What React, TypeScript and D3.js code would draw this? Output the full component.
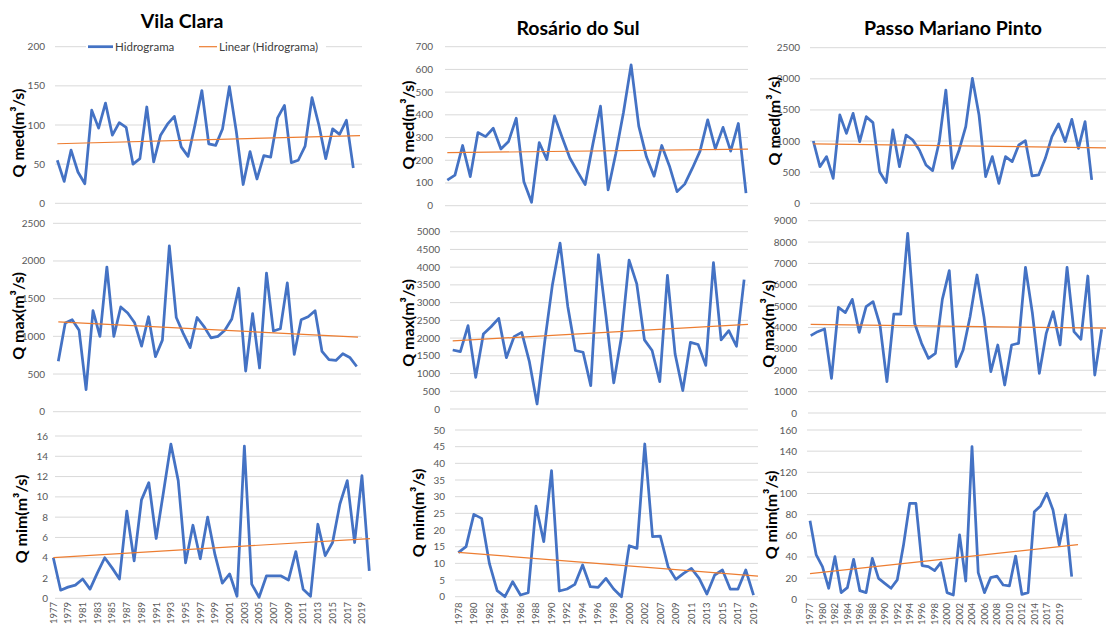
import * as d3 from "d3";
import { useEffect, useRef } from "react";

const FONT = "Lato, 'Open Sans', sans-serif";
const BLUE = "#4472C4";
const ORANGE = "#ED7D31";
const GRID = "#D9D9D9";
const TICK = "#595959";

// categories (years) of each station
const vilaYears = d3.range(1977, 2021).map(String);
const rosarioYears = [...d3.range(1978, 2003), ...d3.range(2006, 2021)].map(String);
const passoYears = ["1977", "1979", ...d3.range(1980, 2015).map(String), "2016", "2017", "2018", "2019", "2020", "2021"];

// x tick labels shown under the bottom row
const vilaTicks = d3.range(1977, 2020, 2).map(String);
const rosarioTicks = [...d3.range(1978, 2003, 2), ...d3.range(2007, 2020, 2)].map(String);
const passoTicks = ["1977", ...d3.range(1980, 2015, 2).map(String), "2017", "2019"];

// Vila Clara
const vilaMed = [55, 28, 68, 40, 25, 119, 96, 128, 87, 103, 97, 50, 57, 123, 53, 87, 101, 111, 72, 60, 100, 144, 76, 74, 95, 149, 92, 24, 66, 31, 61, 59, 109, 125, 52, 55, 73, 135, 100, 57, 95, 88, 106, 45];
const vilaMax = [668, 1177, 1221, 1080, 292, 1340, 1000, 1920, 1000, 1390, 1310, 1180, 870, 1260, 730, 950, 2200, 1250, 1040, 850, 1250, 1130, 980, 1000, 1080, 1230, 1640, 540, 1300, 580, 1840, 1070, 1100, 1710, 760, 1220, 1260, 1340, 800, 690, 680, 770, 720, 600];
const vilaMin = [4.0, 0.8, 1.1, 1.3, 1.9, 0.9, 2.5, 4.0, 3.0, 1.9, 8.6, 3.7, 9.7, 11.4, 5.9, 10.5, 15.2, 11.6, 3.5, 7.2, 3.9, 8.0, 4.3, 1.5, 2.4, 0.2, 15.0, 1.4, 0.1, 2.2, 2.2, 2.2, 1.8, 4.6, 0.9, 0.2, 7.3, 4.2, 5.5, 9.3, 11.6, 5.5, 12.1, 2.7];

// Rosário do Sul
const rosarioMed = [113, 135, 265, 128, 322, 304, 341, 250, 283, 385, 105, 15, 278, 203, 395, 300, 210, 150, 93, 270, 438, 70, 230, 410, 620, 350, 215, 130, 265, 175, 62, 95, 165, 240, 378, 250, 345, 240, 362, 55];
const rosarioMax = [1664, 1617, 2350, 893, 2115, 2320, 2556, 1447, 2040, 2160, 1335, 141, 1900, 3500, 4680, 2900, 1650, 1600, 660, 4350, 2600, 740, 2040, 4200, 3530, 1950, 1650, 770, 3770, 1550, 520, 1880, 1820, 1230, 4130, 1950, 2210, 1770, 3650];
const rosarioMin = [13.2, 15, 24.7, 23.5, 10, 1.8, 0, 4.5, 0.5, 1.2, 27.2, 16.5, 37.8, 1.7, 2.3, 3.7, 9.5, 3, 2.8, 5.5, 2.3, 0, 15.3, 14.5, 45.8, 18, 18.2, 9, 5.2, 7, 8.5, 5.5, 0.8, 6.5, 8, 2.3, 2.3, 8, 0.5];

// Passo Mariano Pinto
const passoMed = [1001, 589, 750, 401, 1419, 1124, 1445, 990, 1392, 1296, 508, 332, 1178, 589, 1097, 1017, 857, 616, 525, 990, 1820, 562, 857, 1231, 2007, 1419, 428, 750, 321, 750, 669, 937, 1006, 439, 455, 723, 1071, 1274, 990, 1349, 883, 1311, 375];
const passoMax = [3619, 3806, 3931, 1622, 4945, 4696, 5320, 3775, 4977, 5211, 4119, 1466, 4633, 4633, 8409, 4197, 3261, 2558, 2793, 5320, 6661, 2168, 2949, 4508, 6459, 4508, 1934, 3183, 1310, 3183, 3261, 6817, 4665, 1856, 3729, 4742, 3183, 6817, 3806, 3447, 6412, 1778, 3916];
const passoMin = [74.3, 41.9, 30.9, 10.4, 40.3, 6.3, 11, 37.8, 8.2, 6.3, 38.7, 19.8, 15.1, 10.4, 18.3, 51, 90.7, 90.7, 31.8, 30.9, 27.1, 34.6, 6.3, 4.1, 60.8, 17.3, 144.3, 25.2, 6.3, 20.5, 22, 13.5, 12.6, 40.9, 4.7, 6.3, 82.8, 88.2, 100.2, 84.4, 51.3, 79.7, 21.4];

const titles = [
    { text: "Vila Clara", x: 182, y: 28 },
    { text: "Rosário do Sul", x: 578, y: 35 },
    { text: "Passo Mariano Pinto", x: 953, y: 35 },
];

// layout of each of the nine panels (pixels)
const panels = [
    { values: vilaMed, years: vilaYears, yMax: 200, yStep: 50, yTop: 46.7, yZero: 203.3, gx0: 55, gx1: 362, tickR: 45, x0: 57.3, x1: 353.3, trendEnd: 360, label: "Q med(m³/s)", lx: 17, ly: 133 },
    { values: vilaMax, years: vilaYears, yMax: 2500, yStep: 500, yTop: 223.3, yZero: 411.7, gx0: 53, gx1: 361, tickR: 45, x0: 58.3, x1: 356.7, trendEnd: 358, label: "Q max(m³/s)", lx: 17, ly: 316 },
    { values: vilaMin, years: vilaYears, yMax: 16, yStep: 2, yTop: 436, yZero: 598.3, gx0: 55, gx1: 362, tickR: 48, x0: 53.3, x1: 369.3, trendEnd: 370, label: "Q mim(m³/s)", lx: 20, ly: 519, xTicks: vilaTicks, xLabelY: 602 },
    { values: rosarioMed, years: rosarioYears, yMax: 700, yStep: 100, yTop: 46.7, yZero: 205.7, gx0: 445, gx1: 748, tickR: 433, x0: 447.3, x1: 746, trendEnd: 748, label: "Q med(m³/s)", lx: 407, ly: 125 },
    { values: rosarioMax, years: rosarioYears, yMax: 5000, yStep: 500, yTop: 231.7, yZero: 409, gx0: 450, gx1: 748, tickR: 440, x0: 452.7, x1: 751.8, trendEnd: 748, label: "Q max(m³/s)", lx: 407, ly: 323 },
    { values: rosarioMin, years: rosarioYears, yMax: 50, yStep: 5, yTop: 430, yZero: 596.7, gx0: 455, gx1: 758, tickR: 445, x0: 458.3, x1: 761.3, trendEnd: 758, label: "Q mim(m³/s)", lx: 417, ly: 513, xTicks: rosarioTicks, xLabelY: 602.5 },
    { values: passoMed, years: passoYears, yMax: 2500, yStep: 500, yTop: 47.7, yZero: 203.3, gx0: 810, gx1: 1106, tickR: 800, x0: 813.3, x1: 1091.7, trendEnd: 1106, label: "Q med(m³/s)", lx: 773, ly: 121 },
    { values: passoMax, years: passoYears, yMax: 9000, yStep: 1000, yTop: 220.7, yZero: 413, gx0: 808, gx1: 1106, tickR: 797, x0: 810.7, x1: 1101.7, trendEnd: 1106, label: "Q max(m³/s)", lx: 767, ly: 324 },
    { values: passoMin, years: passoYears, yMax: 160, yStep: 20, yTop: 430, yZero: 599.3, gx0: 807, gx1: 1082, tickR: 797, x0: 810, x1: 1071.7, trendEnd: 1078, label: "Q mim(m³/s)", lx: 770, ly: 515, xTicks: passoTicks, xLabelY: 603 },
];

const drawPanel = (svg, p) => {
    const x = d3.scaleLinear().domain([0, p.years.length - 1]).range([p.x0, p.x1]);
    const y = d3.scaleLinear().domain([0, p.yMax]).range([p.yZero, p.yTop]);
    const ticks = d3.range(0, p.yMax + p.yStep / 2, p.yStep);
    const g = svg.append("g");

    // gridlines + y tick labels
    g.selectAll(".grid")
        .data(ticks)
        .join("line")
        .attr("x1", p.gx0)
        .attr("x2", p.gx1)
        .attr("y1", (d) => y(d))
        .attr("y2", (d) => y(d))
        .attr("stroke", GRID)
        .attr("stroke-width", 1);
    g.selectAll(".ytick")
        .data(ticks)
        .join("text")
        .attr("x", p.tickR)
        .attr("y", (d) => y(d))
        .attr("dy", "0.35em")
        .attr("text-anchor", "end")
        .attr("font-size", 10)
        .attr("fill", TICK)
        .text((d) => d);

    // hydrograph
    const line = d3.line().x((d, i) => x(i)).y((d) => y(d));
    g.append("path")
        .attr("d", line(p.values))
        .attr("fill", "none")
        .attr("stroke", BLUE)
        .attr("stroke-width", 2.75)
        .attr("stroke-linejoin", "round");

    // linear trend (least squares over the category index)
    const idx = p.values.map((d, i) => i);
    const xm = d3.mean(idx);
    const ym = d3.mean(p.values);
    const slope = d3.sum(idx, (i) => (i - xm) * (p.values[i] - ym)) / d3.sum(idx, (i) => (i - xm) ** 2);
    const icpt = ym - slope * xm;
    const tEnd = x.invert(p.trendEnd);
    g.append("line")
        .attr("x1", x(0))
        .attr("y1", y(icpt))
        .attr("x2", p.trendEnd)
        .attr("y2", y(icpt + slope * tEnd))
        .attr("stroke", ORANGE)
        .attr("stroke-width", 1.2);

    // y axis title
    g.append("text")
        .attr("transform", `translate(${p.lx},${p.ly}) rotate(-90)`)
        .attr("text-anchor", "middle")
        .attr("dominant-baseline", "central")
        .attr("font-size", 16)
        .attr("font-weight", "bold")
        .attr("fill", "#000")
        .text(p.label);

    // x labels only on bottom row
    if (p.xTicks) {
        g.selectAll(".xtick")
            .data(p.xTicks)
            .join("text")
            .attr("transform", (d) => `translate(${x(p.years.indexOf(d))},${p.xLabelY}) rotate(-90)`)
            .attr("text-anchor", "end")
            .attr("dy", "0.35em")
            .attr("font-size", 9.5)
            .attr("fill", TICK)
            .text((d) => d);
    }
};

export default function App() {
    const ref = useRef(null);

    useEffect(() => {
        const svg = d3.select(ref.current);
        svg.selectAll("*").remove();
        svg.attr("font-family", FONT);

        svg.append("rect").attr("width", 1106).attr("height", 625).attr("fill", "#fff");

        panels.forEach((p) => drawPanel(svg, p));

        svg.selectAll(".title")
            .data(titles)
            .join("text")
            .attr("x", (d) => d.x)
            .attr("y", (d) => d.y)
            .attr("text-anchor", "middle")
            .attr("font-size", 19.5)
            .attr("font-weight", "bold")
            .attr("fill", "#000")
            .text((d) => d.text);

        // legend (only on Vila Clara's top chart)
        const lg = svg.append("g");
        lg.append("rect").attr("x", 86).attr("y", 40).attr("width", 240).attr("height", 14).attr("fill", "#fff");
        lg.append("line").attr("x1", 88).attr("x2", 113).attr("y1", 46.7).attr("y2", 46.7).attr("stroke", BLUE).attr("stroke-width", 2.75);
        lg.append("text").attr("x", 115).attr("y", 46.7).attr("dy", "0.35em").attr("font-size", 11.5).attr("fill", "#404040").text("Hidrograma");
        lg.append("line").attr("x1", 199).attr("x2", 217).attr("y1", 46.7).attr("y2", 46.7).attr("stroke", ORANGE).attr("stroke-width", 1.2);
        lg.append("text").attr("x", 219).attr("y", 46.7).attr("dy", "0.35em").attr("font-size", 11.5).attr("fill", "#404040").text("Linear (Hidrograma)");
    }, []);

    return <svg ref={ref} width={1106} height={625} style={{ position: "absolute", left: 0, top: 0 }} />;
}
